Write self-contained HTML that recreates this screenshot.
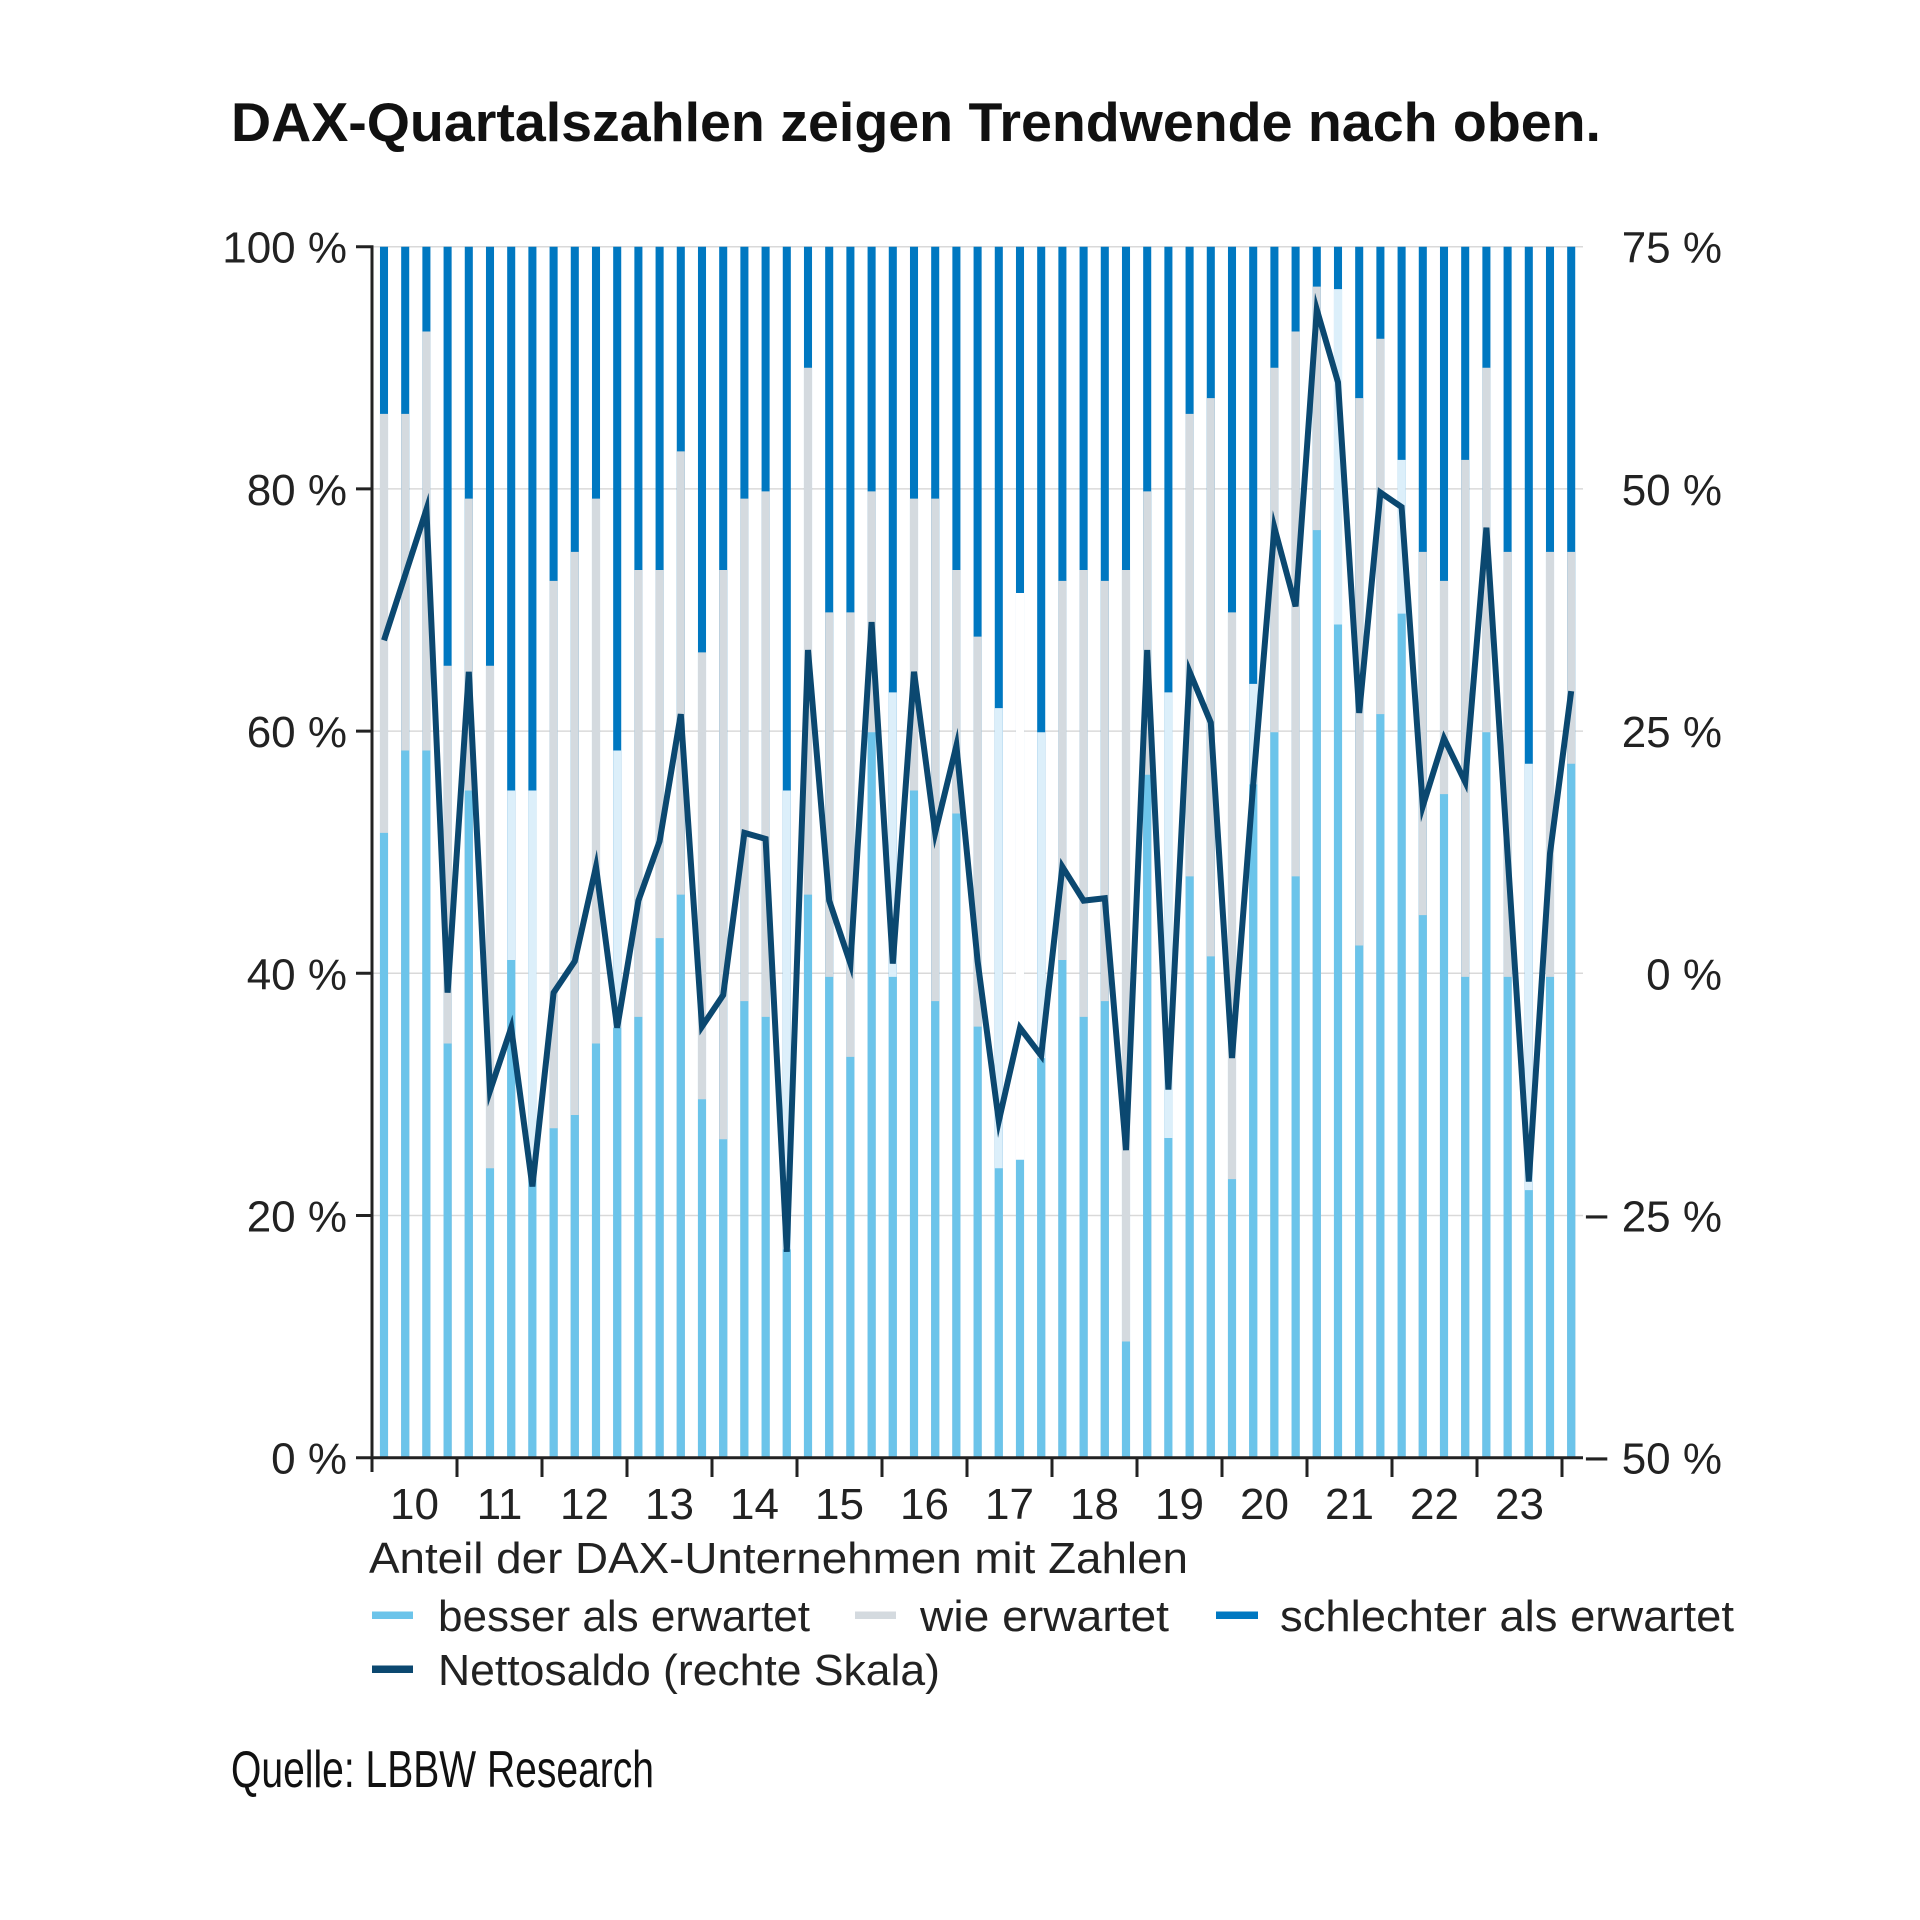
<!DOCTYPE html>
<html><head><meta charset="utf-8"><style>
html,body{margin:0;padding:0;background:#fff}
svg{display:block}
text{font-family:"Liberation Sans",sans-serif;fill:#222}
</style></head><body>
<svg width="1920" height="1920" viewBox="0 0 1920 1920" xmlns="http://www.w3.org/2000/svg">
<rect width="1920" height="1920" fill="#fff"/>
<text x="231" y="141" font-size="55" font-weight="bold" textLength="1370" lengthAdjust="spacingAndGlyphs" style="fill:#111">DAX-Quartalszahlen zeigen Trendwende nach oben.</text>
<path stroke="#d9d9d9" stroke-width="1.5" d="M372 246.7H1583M372 488.9H1583M372 731.1H1583M372 973.3H1583M372 1215.5H1583"/>
<g transform="translate(384,1457.7) scale(21.2,-12.11)">
<path fill="#0078C1" d="M-0.19 0h.38v100h-.38z m1 0h.38v100h-.38z m1 0h.38v100h-.38z m1 0h.38v100h-.38z m1 0h.38v100h-.38z m1 0h.38v100h-.38z m1 0h.38v100h-.38z m1 0h.38v100h-.38z m1 0h.38v100h-.38z m1 0h.38v100h-.38z m1 0h.38v100h-.38z m1 0h.38v100h-.38z m1 0h.38v100h-.38z m1 0h.38v100h-.38z m1 0h.38v100h-.38z m1 0h.38v100h-.38z m1 0h.38v100h-.38z m1 0h.38v100h-.38z m1 0h.38v100h-.38z m1 0h.38v100h-.38z m1 0h.38v100h-.38z m1 0h.38v100h-.38z m1 0h.38v100h-.38z m1 0h.38v100h-.38z m1 0h.38v100h-.38z m1 0h.38v100h-.38z m1 0h.38v100h-.38z m1 0h.38v100h-.38z m1 0h.38v100h-.38z m1 0h.38v100h-.38z m1 0h.38v100h-.38z m1 0h.38v100h-.38z m1 0h.38v100h-.38z m1 0h.38v100h-.38z m1 0h.38v100h-.38z m1 0h.38v100h-.38z m1 0h.38v100h-.38z m1 0h.38v100h-.38z m1 0h.38v100h-.38z m1 0h.38v100h-.38z m1 0h.38v100h-.38z m1 0h.38v100h-.38z m1 0h.38v100h-.38z m1 0h.38v100h-.38z m1 0h.38v100h-.38z m1 0h.38v100h-.38z m1 0h.38v100h-.38z m1 0h.38v100h-.38z m1 0h.38v100h-.38z m1 0h.38v100h-.38z m1 0h.38v100h-.38z m1 0h.38v100h-.38z m1 0h.38v100h-.38z m1 0h.38v100h-.38z m1 0h.38v100h-.38z m1 0h.38v100h-.38z m1 0h.38v100h-.38z"/>
<path fill="#D4DADF" d="M-0.19 0h.38v86.2h-.38z M0.81 0h.38v86.2h-.38z M1.81 0h.38v93h-.38z M2.81 0h.38v65.4h-.38z M3.81 0h.38v79.2h-.38z M4.81 0h.38v65.4h-.38z M7.81 0h.38v72.4h-.38z M8.81 0h.38v74.8h-.38z M9.81 0h.38v79.2h-.38z M11.81 0h.38v73.3h-.38z M12.81 0h.38v73.3h-.38z M13.81 0h.38v83.1h-.38z M14.81 0h.38v66.5h-.38z M15.81 0h.38v73.3h-.38z M16.81 0h.38v79.2h-.38z M17.81 0h.38v79.8h-.38z M19.81 0h.38v90h-.38z M20.81 0h.38v69.8h-.38z M21.81 0h.38v69.8h-.38z M22.81 0h.38v79.8h-.38z M24.81 0h.38v79.2h-.38z M25.81 0h.38v79.2h-.38z M26.81 0h.38v73.3h-.38z M27.81 0h.38v67.8h-.38z M31.81 0h.38v72.4h-.38z M32.81 0h.38v73.3h-.38z M33.81 0h.38v72.4h-.38z M34.81 0h.38v73.3h-.38z M35.81 0h.38v79.8h-.38z M37.81 0h.38v86.2h-.38z M38.81 0h.38v87.5h-.38z M39.81 0h.38v69.8h-.38z M41.81 0h.38v90h-.38z M42.81 0h.38v93h-.38z M43.81 0h.38v96.7h-.38z M45.81 0h.38v87.5h-.38z M46.81 0h.38v92.4h-.38z M48.81 0h.38v74.8h-.38z M49.81 0h.38v72.4h-.38z M50.81 0h.38v82.4h-.38z M51.81 0h.38v90h-.38z M52.81 0h.38v74.8h-.38z M54.81 0h.38v74.8h-.38z M55.81 0h.38v74.8h-.38z"/>
<path fill="#DCEFFA" d="M5.81 0h.38v55.1h-.38z M6.81 0h.38v55.1h-.38z M10.81 0h.38v58.4h-.38z M18.81 0h.38v55.1h-.38z M23.81 0h.38v63.2h-.38z M28.81 0h.38v61.9h-.38z M30.81 0h.38v59.9h-.38z M36.81 0h.38v63.2h-.38z M40.81 0h.38v63.9h-.38z M44.81 0h.38v96.5h-.38z M47.81 0h.38v82.4h-.38z M53.81 0h.38v57.3h-.38z"/>
<path fill="#ffffff" d="M29.81 0h.38v71.4h-.38z"/>
<path fill="#6CC4EA" d="M-0.19 0h.38v51.6h-.38z M0.81 0h.38v58.4h-.38z M1.81 0h.38v58.4h-.38z M2.81 0h.38v34.2h-.38z M3.81 0h.38v55.1h-.38z M4.81 0h.38v23.9h-.38z M5.81 0h.38v41.1h-.38z M6.81 0h.38v23h-.38z M7.81 0h.38v27.2h-.38z M8.81 0h.38v28.3h-.38z M9.81 0h.38v34.2h-.38z M10.81 0h.38v35.5h-.38z M11.81 0h.38v36.4h-.38z M12.81 0h.38v42.9h-.38z M13.81 0h.38v46.5h-.38z M14.81 0h.38v29.6h-.38z M15.81 0h.38v26.3h-.38z M16.81 0h.38v37.7h-.38z M17.81 0h.38v36.4h-.38z M18.81 0h.38v17.2h-.38z M19.81 0h.38v46.5h-.38z M20.81 0h.38v39.7h-.38z M21.81 0h.38v33.1h-.38z M22.81 0h.38v59.9h-.38z M23.81 0h.38v39.7h-.38z M24.81 0h.38v55.1h-.38z M25.81 0h.38v37.7h-.38z M26.81 0h.38v53.2h-.38z M27.81 0h.38v35.6h-.38z M28.81 0h.38v23.9h-.38z M29.81 0h.38v24.6h-.38z M30.81 0h.38v33h-.38z M31.81 0h.38v41.1h-.38z M32.81 0h.38v36.4h-.38z M33.81 0h.38v37.7h-.38z M34.81 0h.38v9.6h-.38z M35.81 0h.38v56.4h-.38z M36.81 0h.38v26.4h-.38z M37.81 0h.38v48h-.38z M38.81 0h.38v41.4h-.38z M39.81 0h.38v23h-.38z M40.81 0h.38v55.6h-.38z M41.81 0h.38v59.9h-.38z M42.81 0h.38v48h-.38z M43.81 0h.38v76.6h-.38z M44.81 0h.38v68.8h-.38z M45.81 0h.38v42.3h-.38z M46.81 0h.38v61.4h-.38z M47.81 0h.38v69.7h-.38z M48.81 0h.38v44.8h-.38z M49.81 0h.38v54.8h-.38z M50.81 0h.38v39.7h-.38z M51.81 0h.38v59.9h-.38z M52.81 0h.38v39.7h-.38z M53.81 0h.38v22.1h-.38z M54.81 0h.38v39.7h-.38z M55.81 0h.38v57.3h-.38z"/>
<polyline fill="none" stroke="#0B4870" stroke-width="6" stroke-linejoin="miter" stroke-miterlimit="6" vector-effect="non-scaling-stroke" points="0,67.5 1,72.9 2,78.3 3,38.4 4,64.9 5,30.3 6,35.5 7,22.4 8,38.4 9,41.0 10,48.8 11,35.5 12,46.0 13,50.9 14,61.4 15,35.6 16,38.2 17,51.6 18,51.1 19,17.0 20,66.7 21,46.0 22,40.8 23,69.0 24,40.8 25,64.9 26,51.6 27,58.8 28,41.0 29,27.8 30,35.5 31,33.2 32,48.8 33,46.0 34,46.2 35,25.4 36,66.7 37,30.4 38,64.9 39,60.7 40,33.0 41,55.6 42,76.8 43,70.3 44,94.8 45,88.8 46,61.5 47,79.7 48,78.5 49,53.8 50,59.4 51,55.8 52,76.8 53,49.8 54,22.8 55,49.9 56,63.3"/>
</g>
<path stroke="#222" stroke-width="3" fill="none" d="M372 245.2V1472 M356 1457.7H1583 M356 246.7H372 M356 488.9H372 M356 731.1H372 M356 973.3H372 M356 1215.5H372 M457 1457.7V1477 M542 1457.7V1477 M627 1457.7V1477 M712 1457.7V1477 M797 1457.7V1477 M882 1457.7V1477 M967 1457.7V1477 M1052 1457.7V1477 M1137 1457.7V1477 M1222 1457.7V1477 M1307 1457.7V1477 M1392 1457.7V1477 M1477 1457.7V1477 M1562 1457.7V1477"/>
<g font-size="44" text-anchor="end">
<text x="347" y="262.7">100 %</text>
<text x="347" y="504.9">80 %</text>
<text x="347" y="747.1">60 %</text>
<text x="347" y="989.3">40 %</text>
<text x="347" y="1231.5">20 %</text>
<text x="347" y="1473.7">0 %</text>
<text x="1722" y="262.7">75 %</text>
<text x="1722" y="504.9">50 %</text>
<text x="1722" y="747.1">25 %</text>
<text x="1722" y="989.3">0 %</text>
<text x="1722" y="1231.5">− 25 %</text>
<text x="1722" y="1473.7">− 50 %</text>
</g>
<g font-size="44" text-anchor="middle">
<text x="414.5" y="1519">10</text>
<text x="499.5" y="1519">11</text>
<text x="584.5" y="1519">12</text>
<text x="669.5" y="1519">13</text>
<text x="754.5" y="1519">14</text>
<text x="839.5" y="1519">15</text>
<text x="924.5" y="1519">16</text>
<text x="1009.5" y="1519">17</text>
<text x="1094.5" y="1519">18</text>
<text x="1179.5" y="1519">19</text>
<text x="1264.5" y="1519">20</text>
<text x="1349.5" y="1519">21</text>
<text x="1434.5" y="1519">22</text>
<text x="1519.5" y="1519">23</text>
</g>
<text x="369" y="1573" font-size="44" textLength="819" lengthAdjust="spacingAndGlyphs">Anteil der DAX-Unternehmen mit Zahlen</text>
<rect x="372" y="1611.5" width="41" height="7.5" fill="#6CC4EA"/>
<text x="438" y="1631" font-size="44" textLength="372" lengthAdjust="spacingAndGlyphs">besser als erwartet</text>
<rect x="855" y="1611.5" width="41" height="7.5" fill="#D4DADF"/>
<text x="920" y="1631" font-size="44" textLength="249" lengthAdjust="spacingAndGlyphs">wie erwartet</text>
<rect x="1216" y="1611.5" width="42" height="7.5" fill="#0078C1"/>
<text x="1280" y="1631" font-size="44" textLength="454" lengthAdjust="spacingAndGlyphs">schlechter als erwartet</text>
<rect x="372" y="1665.5" width="41" height="7.5" fill="#0B4870"/>
<text x="438" y="1685" font-size="44" textLength="502" lengthAdjust="spacingAndGlyphs">Nettosaldo (rechte Skala)</text>
<text x="231" y="1787" font-size="52" textLength="423" lengthAdjust="spacingAndGlyphs" style="fill:#111">Quelle: LBBW Research</text>
</svg>
</body></html>
